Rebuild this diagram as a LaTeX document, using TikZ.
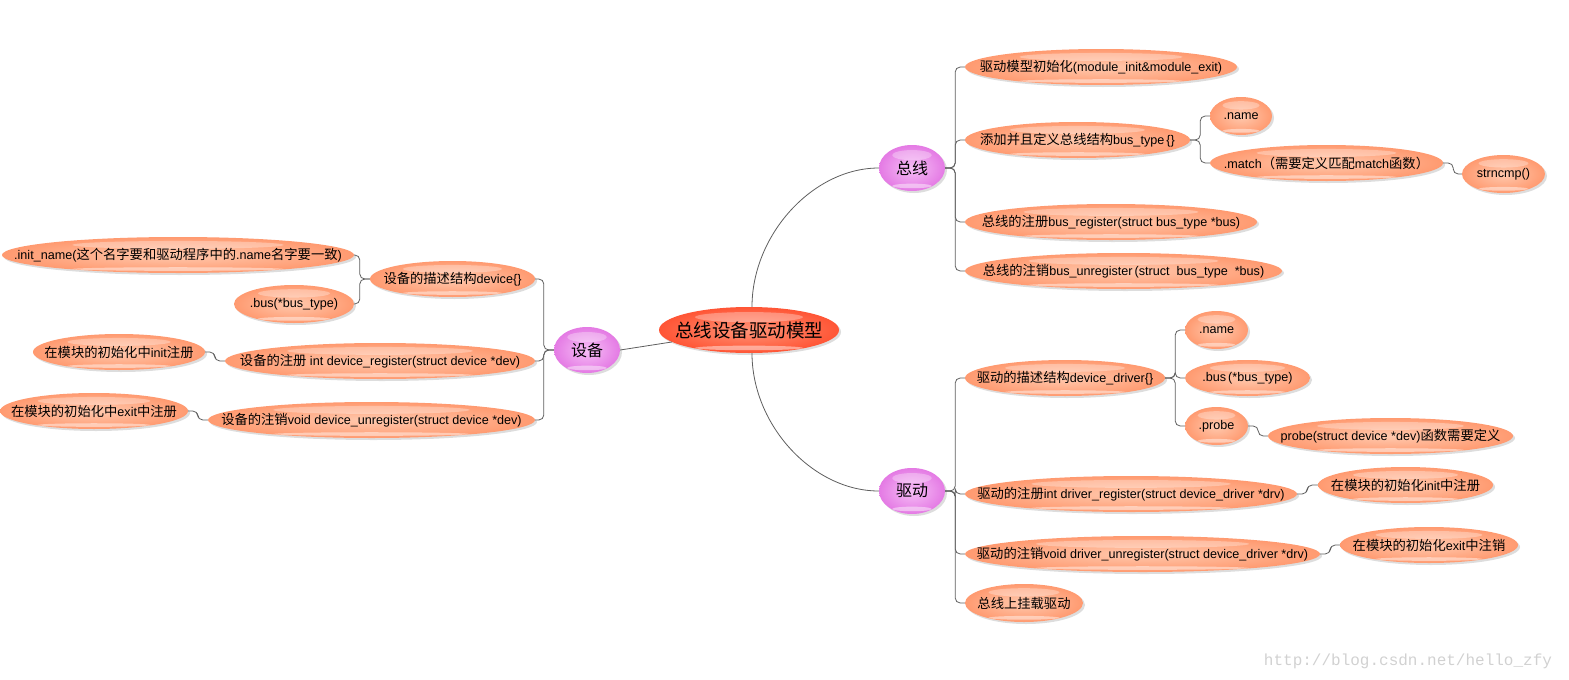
\documentclass[tikz,border=0pt]{standalone}
\usepackage{fontspec}
\setmainfont{Liberation Sans}
\newfontfamily\cjk{Noto Sans CJK SC}
\newfontfamily\wmfont{Liberation Mono}
\usetikzlibrary{shapes.geometric,shadows}
\definecolor{salin}{HTML}{FFC9AE}
\definecolor{salout}{HTML}{FF9A70}
\definecolor{pinkin}{HTML}{F6BEF6}
\definecolor{pinkout}{HTML}{E47AE4}
\definecolor{redin}{HTML}{FF9478}
\definecolor{redout}{HTML}{FF5535}
\definecolor{linec}{HTML}{5E5E5E}
\newcommand{\z}[1]{{\cjk\fontsize{13.3}{15}\selectfont #1}}
\newcommand{\T}[1]{\makebox[0pt]{#1}}
\tikzset{
  bub/.style 2 args={ellipse, minimum width=#1pt, minimum height=#2pt, inner sep=0pt,
    shade, shading=radial, inner color=salin, outer color=salout,
    font=\fontsize{12.6}{14}\selectfont,
    drop shadow={shadow xshift=2pt, shadow yshift=-2pt, opacity=.22, fill=black!60},
    path picture={
      \fill[white,opacity=.3] ([yshift=0.28*#2pt]path picture bounding box.center) ellipse [x radius=0.3*#1pt, y radius=0.11*#2pt];
      \fill[white,opacity=.45] ([yshift=-0.39*#2pt]path picture bounding box.center) ellipse [x radius=0.3*#1pt, y radius=0.05*#2pt];
    }},
  pinkbub/.style={bub={66}{46}, inner color=pinkin, outer color=pinkout,
    font=\cjk\fontsize{16}{18}\selectfont},
  rootbub/.style={bub={180}{46}, inner color=redin, outer color=redout,
    font=\cjk\fontsize{18.5}{20}\selectfont},
  conn/.style={draw=linec, line width=0.8pt, rounded corners=5pt},
}
\begin{document}
\begin{tikzpicture}[x=1pt,y=-1pt]
\useasboundingbox (0,0) rectangle (1569,680);

% centre
\node[rootbub] (root) at (749,330) {\T{总线设备驱动模型}};
\node[pinkbub] (dev) at (587,350) {\T{设备}};
\node[pinkbub] (bus) at (912,168) {\T{总线}};
\node[pinkbub] (drv) at (912,491) {\T{驱动}};

% bus branch
\node[bub={272}{36}] (b1) at (1101,67) {\T{\z{驱动模型初始化}(module\_init\&module\_exit)}};
\node[bub={225}{36}] (b2) at (1077.5,140) {\T{\z{添加并且定义总线结构}bus\_type\,\{\}}};
\node[bub={292}{36}] (b3) at (1111,222) {\T{\z{总线的注册}bus\_register(struct bus\_type *bus)}};
\node[bub={317}{36}] (b4) at (1123.5,271) {\T{\z{总线的注销}bus\_unregister\,(struct\ \ bus\_type\ \ *bus)}};
\node[bub={62}{38}] (b21) at (1241,116) {\T{.name}};
\node[bub={233}{36}] (b22) at (1326.5,163) {\T{.match\z{（需要定义匹配}match\z{函数）}}};
\node[bub={83}{38}] (b221) at (1503.5,174) {\T{strncmp()}};

% driver branch
\node[bub={200}{36}] (d1) at (1065,378) {\T{\z{驱动的描述结构}device\_driver\{\}}};
\node[bub={332}{36}] (d2) at (1131,494) {\T{\z{驱动的注册}int driver\_register(struct device\_driver *drv)}};
\node[bub={355}{36}] (d3) at (1142.5,554) {\T{\z{驱动的注销}void driver\_unregister(struct device\_driver *drv)}};
\node[bub={118}{38}] (d4) at (1024,603) {\T{\z{总线上挂载驱动}}};
\node[bub={63}{38}] (d11) at (1216.5,330) {\T{.name}};
\node[bub={125}{36}] (d12) at (1247.5,378) {\T{.bus\,(*bus\_type)}};
\node[bub={63}{38}] (d13) at (1216.5,426) {\T{.probe}};
\node[bub={245}{36}] (d131) at (1390.5,436) {\T{probe(struct device *dev)\z{函数需要定义}}};
\node[bub={175}{36}] (d21) at (1405.5,485) {\T{\z{在模块的初始化}init\z{中注册}}};
\node[bub={178}{36}] (d31) at (1429,545) {\T{\z{在模块的初始化}exit\z{中注销}}};

% device branch
\node[bub={165}{36}] (e1) at (452.5,279) {\T{\z{设备的描述结构}device\{\}}};
\node[bub={310}{36}] (e2) at (380,361) {\T{\z{设备的注册} int device\_register(struct device *dev)}};
\node[bub={327}{36}] (e3) at (371.5,420) {\T{\z{设备的注销}void device\_unregister(struct device *dev)}};
\node[bub={352}{36}] (e11) at (178,255) {\T{.init\_name(\z{这个名字要和驱动程序中的}.name\z{名字要一致})}};
\node[bub={120}{38}] (e12) at (294,304) {\T{.bus(*bus\_type)}};
\node[bub={172}{36}] (e21) at (119,352) {\T{\z{在模块的初始化中}init\z{注册}}};
\node[bub={188}{36}] (e31) at (94,411) {\T{\z{在模块的初始化中}exit\z{中注册}}};

% connectors from root
\draw[conn] ([xshift=3pt]root.north) .. controls +(0,-72) and +(-66,0) .. (bus.west);
\draw[conn] ([xshift=3pt]root.south) .. controls +(0,72) and +(-66,0) .. (drv.west);
\draw[conn] (dev.east) -- (root);

% bus tree
\foreach \c in {b1,b2,b3,b4} \draw[conn] (bus.east) -- ++(10,0) |- (\c.west);
\foreach \c in {b21,b22} \draw[conn] (b2.east) -- ++(10,0) |- (\c.west);
\draw[conn] (b22.east) -- ++(10,0) |- (b221.west);

% driver tree
\foreach \c in {d1,d2,d3,d4} \draw[conn] (drv.east) -- ++(10,0) |- (\c.west);
\foreach \c in {d11,d12,d13} \draw[conn] (d1.east) -- ++(10,0) |- (\c.west);
\draw[conn] (d13.east) -- ++(10,0) |- (d131.west);
\draw[conn] (d2.east) -- ++(10,0) |- (d21.west);
\draw[conn] (d3.east) -- ++(10,0) |- (d31.west);

% device tree
\foreach \c in {e1,e2,e3} \draw[conn] (dev.west) -- ++(-10,0) |- (\c.east);
\foreach \c in {e11,e12} \draw[conn] (e1.west) -- ++(-10,0) |- (\c.east);
\draw[conn] (e2.west) -- ++(-10,0) |- (e21.east);
\draw[conn] (e3.west) -- ++(-10,0) |- (e31.east);

% watermark
\node[text=black!18, font=\wmfont\fontsize{16}{18}\selectfont] (wm) at (1408,661) {http://blog.csdn.net/hello\_zfy};
\end{tikzpicture}
\end{document}
